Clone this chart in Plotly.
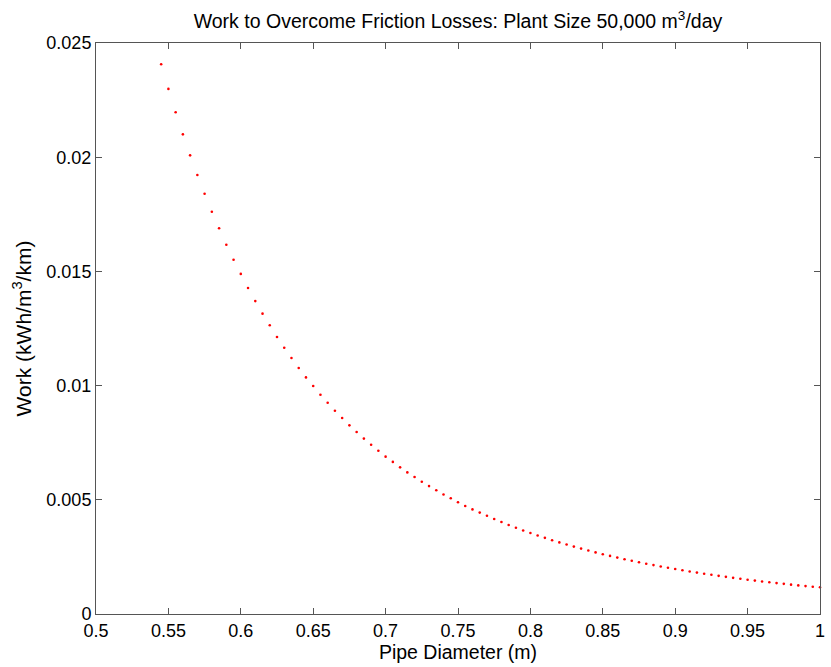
import plotly.graph_objects as go

# Pipe diameter (m)
diameter = [round(0.545 + 0.005 * i, 3) for i in range(92)]

# Work (kWh/m^3/km)
work = [
    0.02407, 0.02299, 0.02197, 0.02100, 0.02008, 0.01922, 0.01840, 0.01761,
    0.01689, 0.01617, 0.01551, 0.01489, 0.01427, 0.01370, 0.01315, 0.01264,
    0.01213, 0.01166, 0.01121, 0.01077, 0.01036, 0.00998, 0.00960, 0.00925,
    0.00890, 0.00858, 0.00826, 0.00797, 0.00768, 0.00741, 0.00715, 0.00689,
    0.00666, 0.00642, 0.00620, 0.00600, 0.00579, 0.00560, 0.00542, 0.00523,
    0.00507, 0.00489, 0.00473, 0.00458, 0.00444, 0.00430, 0.00416, 0.004025,
    0.003898, 0.003776, 0.003659, 0.003546, 0.003437, 0.003333, 0.003232,
    0.003134, 0.003040, 0.002950, 0.002863, 0.002778, 0.002697, 0.002619,
    0.002543, 0.002470, 0.002400, 0.002331, 0.002266, 0.002202, 0.002140,
    0.002081, 0.002023, 0.001968, 0.001914, 0.001862, 0.001812, 0.001763,
    0.001716, 0.001670, 0.001626, 0.001583, 0.001542, 0.001502, 0.001463,
    0.001425, 0.001389, 0.001353, 0.001319, 0.001286, 0.001253, 0.001222,
    0.001195, 0.001170,
]

x_ticks = [0.5, 0.55, 0.6, 0.65, 0.7, 0.75, 0.8, 0.85, 0.9, 0.95, 1.0]
x_ticktext = ["0.5", "0.55", "0.6", "0.65", "0.7", "0.75", "0.8", "0.85", "0.9", "0.95", "1"]
y_ticks = [0, 0.005, 0.01, 0.015, 0.02, 0.025]
y_ticktext = ["0", "0.005", "0.01", "0.015", "0.02", "0.025"]

FONT = "Liberation Sans, Arial, Helvetica, sans-serif"
AXIS_COLOR = "#555555"

fig = go.Figure(
    go.Scatter(
        x=diameter,
        y=work,
        mode="markers",
        marker=dict(color="#ff0000", size=2.6, line=dict(width=0)),
        showlegend=False,
        cliponaxis=False,
        hoverinfo="skip",
    )
)

axis_common = dict(
    showline=True,
    linecolor=AXIS_COLOR,
    linewidth=1,
    mirror="ticks",
    ticks="inside",
    ticklen=6,
    tickcolor=AXIS_COLOR,
    tickwidth=1,
    showgrid=False,
    zeroline=False,
    automargin=False,
    tickfont=dict(family=FONT, size=18, color="#000000"),
)

fig.update_layout(
    width=831,
    height=667,
    margin=dict(l=96, r=11, t=43, b=53, autoexpand=False),
    paper_bgcolor="white",
    plot_bgcolor="white",
    font=dict(family=FONT, size=18, color="#000000"),
    title=dict(
        text="Work to Overcome Friction Losses: Plant Size 50,000 m<sup>3</sup>/day",
        x=0.5,
        xref="paper",
        xanchor="center",
        y=1 - 21 / 667,
        yanchor="middle",
        font=dict(family=FONT, size=19.5, color="#000000"),
        automargin=False,
    ),
    xaxis=dict(
        range=[0.5, 1.0],
        tickvals=x_ticks,
        ticktext=x_ticktext,
        title=dict(text="Pipe Diameter (m)", standoff=2,
                   font=dict(family=FONT, size=19.5, color="#000000")),
        **axis_common,
    ),
    yaxis=dict(
        range=[0, 0.025],
        tickvals=y_ticks,
        ticktext=y_ticktext,
        title=dict(text="Work (kWh/m<sup>3</sup>/km)", standoff=9,
                   font=dict(family=FONT, size=21, color="#000000")),
        **axis_common,
    ),
)

fig.write_html(
    "out.html",
    config={"displayModeBar": False},
    post_script="document.body.style.margin='0';document.body.style.overflow='hidden';",
)
